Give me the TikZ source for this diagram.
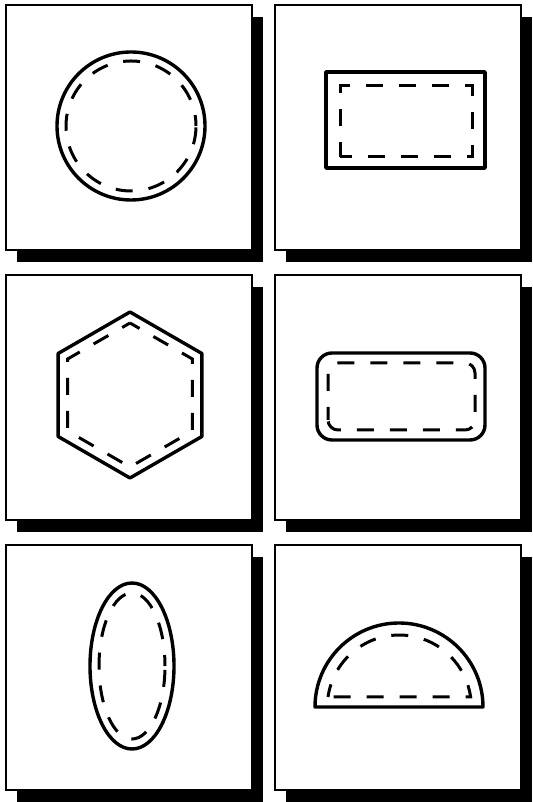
\documentclass[tikz,border=0pt]{standalone}
\usepackage{tikz}

\begin{document}
\begin{tikzpicture}[x=1pt, y=1pt,
	frame/.style={line width=2.2pt, fill=white},
	outline/.style={line width=3.4pt, line join=round},
	inner/.style={line width=3pt, dash pattern=on 17pt off 16pt}]
	\useasboundingbox (0,0) rectangle (532,802);
	\foreach \x in {6,275} \foreach \y in {12,282,552} {\fill (\x+11,\y-12) rectangle (\x+257,\y+233); \draw[frame] (\x,\y) rectangle (\x+246,\y+245);}
	\draw[outline] (131,676) circle [radius=74];
	\draw[inner, dash phase=6pt] (131,676) circle [radius=65];
	\draw[outline] (326,634) rectangle (485,730);
	\draw[inner, dash phase=2pt] (340,645) rectangle (472,716);
	\draw[outline] (130,407) +(90:83) -- +(150:83) -- +(210:83) -- +(270:83) -- +(330:83) -- +(30:83) -- cycle;
	\draw[inner, dash phase=8pt] (130,407) +(90:72) -- +(150:72) -- +(210:72) -- +(270:72) -- +(330:72) -- +(30:72) -- cycle;
	\draw[outline, rounded corners=15pt] (317,362) rectangle (485,449);
	\draw[inner, rounded corners=10pt, dash phase=4pt] (328,372) rectangle (475,439);
	\draw[outline] (132,136) ellipse [x radius=42, y radius=83];
	\draw[inner, dash phase=6pt] (132,136) ellipse [x radius=33, y radius=73];
	\draw[outline] (315,95) arc [start angle=180, end angle=0, radius=84] -- cycle;
	\draw[inner, dash phase=4pt] (328,105) arc [start angle=172, end angle=8, radius=72] -- cycle;
\end{tikzpicture}
\end{document}
